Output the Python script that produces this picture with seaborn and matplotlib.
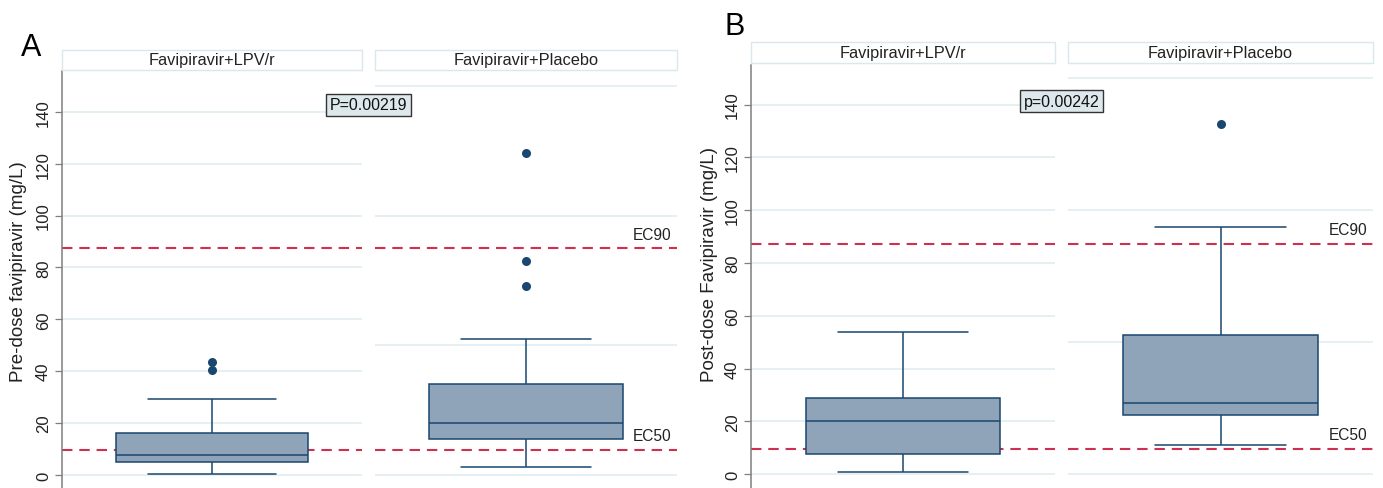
import numpy as np
import matplotlib
matplotlib.use("Agg")
import matplotlib.pyplot as plt
import seaborn as sns
from matplotlib.patches import Rectangle

# groups (facets)
groups = ["Favipiravir+LPV/r", "Favipiravir+Placebo"]

# five-number summaries: [lower whisker, Q1, median, Q3, upper whisker]
pre_lpv_box = [0.3, 5.1, 7.6, 16.2, 29.3]
pre_plc_box = [3.0, 14.0, 20.2, 35.0, 52.6]
post_lpv_box = [0.8, 7.8, 20.2, 29.0, 53.9]
post_plc_box = [11.0, 22.3, 27.0, 52.6, 93.7]

# outside values
pre_lpv_out = [40.4, 43.7]
pre_plc_out = [72.9, 82.5, 124.0]
post_lpv_out = []
post_plc_out = [132.8]

# reference concentrations
ec_values = [9.7, 87.3]
ec_labels = ["EC50", "EC90"]

left_ticks = [0, 20, 40, 60, 80, 100, 120, 140]
right_grid = [0, 50, 100, 150]

p_texts = ["P=0.00219", "p=0.00242"]
ylabels = ["Pre-dose favipiravir (mg/L)", "Post-dose Favipiravir (mg/L)"]
panel_tags = ["A", "B"]

NAVY = "#1a476f"
FILL = "#8fa4b8"
RED = "#d03050"
GRID = "#e6f0f2"
AXGRAY = "#7f7f7f"

sns.set_style("white")
plt.rcParams["font.family"] = ["Liberation Sans", "DejaVu Sans"]

W, H = 1383, 489
fig = plt.figure(figsize=(W / 100, H / 100), dpi=100)


def px_axes(x0, x1, ytop):
    return fig.add_axes([x0 / W, 0, (x1 - x0) / W, (H - ytop) / H])


def draw_facet(ax, box_vals, out_vals, ylim, first, label_right):
    sns.boxplot(y=box_vals, ax=ax, whis=np.inf, width=0.64, color=FILL,
                saturation=1, linecolor=NAVY, linewidth=1.1, capwidths=0.43,
                showfliers=False)
    if out_vals:
        sns.stripplot(y=out_vals, ax=ax, jitter=False, color=NAVY, size=6.5)
    ax.set_xlim(-0.5, 0.5)
    ax.set_ylim(*ylim)
    ax.set_xticks([])
    ax.set_xlabel("")
    ax.set_ylabel("")
    for ev in ec_values:
        ax.axhline(ev, color=RED, lw=1.5, ls=(0, (5, 3.3)), zorder=1.5)
    ax.set_axisbelow(True)
    ax.yaxis.grid(True, color=GRID, lw=1.4)
    for s in ax.spines.values():
        s.set_visible(False)
    if first:
        ax.set_yticks(left_ticks)
        ax.spines["left"].set_visible(True)
        ax.spines["left"].set_color(AXGRAY)
        ax.spines["left"].set_linewidth(1.1)
        ax.tick_params(axis="y", length=5, width=0.9, color=AXGRAY, pad=3,
                       labelsize=12, left=True, labelcolor="#222222")
        for lab in ax.get_yticklabels():
            lab.set_rotation(90)
            lab.set_va("center")
    else:
        ax.set_yticks(right_grid)
        ax.tick_params(axis="y", length=0, labelleft=False)
    if label_right:
        for ev, lab in zip(ec_values, ec_labels):
            ax.annotate(lab, xy=(0.98, ev), xycoords=("axes fraction", "data"),
                        xytext=(0, 5), textcoords="offset points",
                        ha="right", va="bottom", fontsize=11.2, color="#222222")


def strip(x0, x1, y0, y1, text):
    fig.patches.append(Rectangle((x0 / W, 1 - y1 / H), (x1 - x0) / W, (y1 - y0) / H,
                                 transform=fig.transFigure, facecolor="white",
                                 edgecolor="#dbe8eb", lw=1.0))
    fig.text((x0 + x1) / 2 / W, 1 - (y0 + y1) / 2 / H, text, ha="center",
             va="center", fontsize=11.8, color="#222222")


panels = [
    dict(boxes=[pre_lpv_box, pre_plc_box], outs=[pre_lpv_out, pre_plc_out],
         xs=[(62, 362), (375, 677)], ytop=71.7, ylim=(-5.0, 155.8),
         strip=(50.7, 71.3), ylab_x=19, ylab_y=272, tag=(31, 48), p=(368.5, 105.7)),
    dict(boxes=[post_lpv_box, post_plc_box], outs=[post_lpv_out, post_plc_out],
         xs=[(751, 1055), (1068, 1373)], ytop=66, ylim=(-5.2, 155.0),
         strip=(42.7, 64.3), ylab_x=709, ylab_y=264, tag=(735, 27), p=(1061.5, 102.3)),
]

for i, pn in enumerate(panels):
    for j in range(2):
        x0, x1 = pn["xs"][j]
        ax = px_axes(x0, x1, pn["ytop"])
        draw_facet(ax, pn["boxes"][j], pn["outs"][j], pn["ylim"], j == 0, j == 1)
        strip(x0, x1, pn["strip"][0], pn["strip"][1], groups[j])
    fig.text(pn["ylab_x"] / W, 1 - pn["ylab_y"] / H, ylabels[i], rotation=90,
             ha="center", va="center", fontsize=13.5, color="#222222")
    fig.text(pn["tag"][0] / W, 1 - pn["tag"][1] / H, panel_tags[i], ha="center",
             va="center", fontsize=22, color="black")
    fig.text(pn["p"][0] / W, 1 - pn["p"][1] / H, p_texts[i], ha="center",
             va="center", fontsize=11.5, color="#111111",
             bbox=dict(boxstyle="square,pad=0.22", facecolor="#dde8ed",
                       edgecolor="#333333", lw=1.0))

fig.savefig("out.png", dpi=100)
